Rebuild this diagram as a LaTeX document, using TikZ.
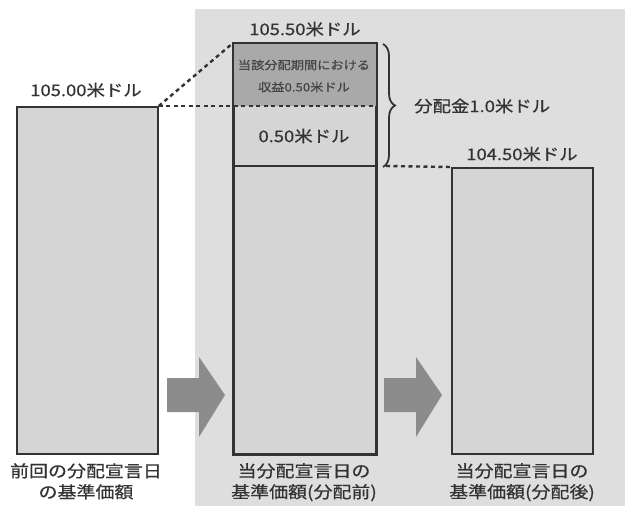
\documentclass[tikz,border=0pt]{standalone}
\usepackage{fontspec}
\setmainfont{Noto Sans CJK JP}[FakeStretch=1.15,FakeBold=0.6]
\usetikzlibrary{decorations.pathreplacing}
\definecolor{panel}{HTML}{DEDEDE}
\definecolor{barfill}{HTML}{D5D5D5}
\definecolor{darkfill}{HTML}{A9A9A9}
\definecolor{arrowc}{HTML}{8C8C8C}
\definecolor{ink}{HTML}{333333}
\definecolor{inkb}{HTML}{454545}
\begin{document}
\begin{tikzpicture}[x=1pt,y=-1pt,
  bar/.style={draw=ink,line width=1.8pt,fill=barfill,inner sep=0,anchor=north west},
  lbl/.style={text=ink,font=\fontsize{16}{20}\selectfont,inner sep=0},
  small/.style={text=inkb,font=\fontsize{11.5}{14}\selectfont,inner sep=0},
  bottomlbl/.style={text=ink,font=\fontsize{16.5}{21}\selectfont,align=center,inner sep=0,anchor=north},
  dotline/.style={draw=ink,line width=2.4pt,dash pattern=on 4pt off 3.5pt},
  bigarrow/.style={fill=arrowc,draw=none}]
\useasboundingbox (0,0) rectangle (625,506);
\fill[white] (0,0) rectangle (625,506);
\fill[panel] (195,9) rectangle (625,506);
% bars
\node[bar,minimum width=141pt,minimum height=347pt] (b1) at (16,106) {};
\node[bar,minimum width=142pt,minimum height=410pt] (b2) at (233,43) {};
\node[bar,minimum width=141pt,minimum height=286pt] (b3) at (451,167) {};
% dark top part of middle bar
\fill[darkfill] (b2.north west) rectangle ([yshift=-63pt]b2.north east);
\draw[draw=ink,line width=1.8pt] (b2.north west) rectangle (b2.south east);
\coordinate (m1l) at ([yshift=-63pt]b2.north west);
\coordinate (m1r) at ([yshift=-63pt]b2.north east);
\coordinate (m2l) at ([yshift=-123pt]b2.north west);
\coordinate (m2r) at ([yshift=-123pt]b2.north east);
\draw[draw=ink,line width=1.8pt] (m2l) -- (m2r);
% dotted connectors
\draw[dotline] (b1.north east) -- (b2.north west);
\draw[dotline] (b1.north east) -- (m1r);
\coordinate (bb) at (386,166);
\draw[dotline] (bb) -- (b3.north west);
% brace
\coordinate (bt) at (383,44);
\coordinate (bbot) at (383,167);
\draw[draw=ink,line width=1.8pt,decorate,decoration={brace,amplitude=12pt,aspect=0.5}] (bt) -- (bbot);
% labels
\node[lbl] (t1) at (86,90) {105.00米ドル};
\node[lbl] (t2) at (305,29) {105.50米ドル};
\node[lbl] (t3) at (522,154) {104.50米ドル};
\node[lbl,anchor=west] (t4) at (414,106) {分配金1.0米ドル};
\node[lbl] (t5) at (304,136) {0.50米ドル};
\node[small] (s1) at (304,65) {当該分配期間における};
\node[small] (s2) at (304,87) {収益0.50米ドル};
% bottom labels
\node[bottomlbl] (l1) at (86,463) {前回の分配宣言日\\の基準価額};
\node[bottomlbl] (l2) at (304,463) {当分配宣言日の\\基準価額(分配前)};
\node[bottomlbl] (l3) at (522,463) {当分配宣言日の\\基準価額(分配後)};
% big arrows
\fill[bigarrow] (167,378) -- (199,378) -- (199,357) -- (225,395) -- (199,437) -- (199,412) -- (167,412) -- cycle;
\fill[bigarrow] (384,378) -- (416,378) -- (416,357) -- (442,395) -- (416,437) -- (416,412) -- (384,412) -- cycle;
\end{tikzpicture}
\end{document}
